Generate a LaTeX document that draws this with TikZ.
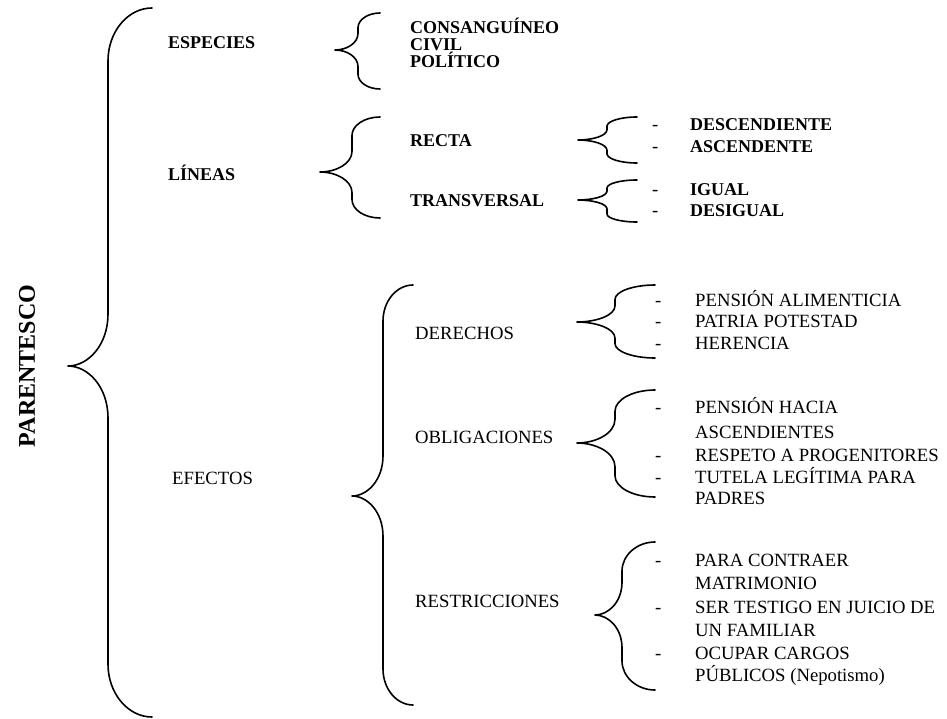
\documentclass[tikz,border=0pt]{standalone}
\usepackage{fontspec}
\setmainfont{Liberation Serif}
\usetikzlibrary{calc}

% llave: x extremos, x vertical, x punta, y arriba, y punta, y abajo
\newcommand{\llave}[6]{%
  \pgfmathsetmacro{\hmin}{min(#5-#4,#6-#5)}%
  \pgfmathsetmacro{\ra}{min(1.2*(#1-#2),0.4*\hmin)}%
  \pgfmathsetmacro{\rb}{min(1.3*(#2-#3),0.45*\hmin)}%
  \draw[trazo] (#1,#4) .. controls ({#2+0.45*(#1-#2)},#4) and (#2,{#4+0.45*\ra}) .. (#2,{#4+\ra})
    -- (#2,{#5-\rb}) .. controls (#2,{#5-0.4*\rb}) and ({#3+0.5*(#2-#3)},#5) .. (#3,#5)
    .. controls ({#3+0.5*(#2-#3)},#5) and (#2,{#5+0.4*\rb}) .. (#2,{#5+\rb})
    -- (#2,{#6-\ra}) .. controls (#2,{#6-0.45*\ra}) and ({#2+0.45*(#1-#2)},#6) .. (#1,#6);}

\begin{document}
\begin{tikzpicture}[
      x=1pt,
      y=-1pt,
      raiz/.style={
          font=\bfseries\fontsize{24}{28}\selectfont,
          rotate=90
        },
      rama/.style={
          anchor=base west,
          inner sep=0pt,
          font=\bfseries\fontsize{18}{20}\selectfont
        },
      hoja/.style={
          anchor=base west,
          inner sep=0pt,
          font=\fontsize{18.7}{22}\selectfont
        },
      guion/.style={
          hoja
        },
      trazo/.style={
          line width=1.6pt,
          line cap=round,
          line join=round
        }
    ]
    \useasboundingbox (0,0) rectangle (947,719);

    % Nodes
    \node[raiz] (parentesco) at (27,366) {PARENTESCO};
    \node[rama] (especies) at (168,49) {ESPECIES};
    \node[rama] (lineas) at (168,181) {LÍNEAS};
    \node[hoja] (efectos) at (172,484) {EFECTOS};

    \node[rama] (consang) at (410,34) {CONSANGUÍNEO};
    \node[rama] (civil) at (410,51) {CIVIL};
    \node[rama] (politico) at (410,68) {POLÍTICO};
    \node[rama] (recta) at (410,147) {RECTA};
    \node[rama] (transv) at (410,207) {TRANSVERSAL};

    \node[guion] (g-desc) at (652,131) {-};
    \node[guion] (g-asc) at (652,153) {-};
    \node[guion] (g-igual) at (652,196) {-};
    \node[guion] (g-desig) at (652,217) {-};
    \node[rama] (desc) at (690,131) {DESCENDIENTE};
    \node[rama] (asc) at (690,153) {ASCENDENTE};
    \node[rama] (igual) at (690,196) {IGUAL};
    \node[rama] (desig) at (690,217) {DESIGUAL};

    \node[hoja] (derechos) at (415,339) {DERECHOS};
    \node[hoja] (obligac) at (415,443) {OBLIGACIONES};
    \node[hoja] (restric) at (415,607) {RESTRICCIONES};

    \node[guion] (g-pension) at (655,306) {-};
    \node[guion] (g-patria) at (655,327.5) {-};
    \node[guion] (g-herencia) at (655,349) {-};
    \node[hoja] (pension) at (695,306) {PENSIÓN ALIMENTICIA};
    \node[hoja] (patria) at (695,327.5) {PATRIA POTESTAD};
    \node[hoja] (herencia) at (695,349) {HERENCIA};

    \node[guion] (g-hacia) at (655,413) {-};
    \node[guion] (g-respeto) at (655,461) {-};
    \node[guion] (g-tutela) at (655,483) {-};
    \node[hoja] (hacia) at (695,413) {PENSIÓN HACIA};
    \node[hoja] (ascend) at (695,438) {ASCENDIENTES};
    \node[hoja] (respeto) at (695,461) {RESPETO A PROGENITORES};
    \node[hoja] (tutela) at (695,483) {TUTELA LEGÍTIMA PARA};
    \node[hoja] (padres) at (695,504) {PADRES};

    \node[guion] (g-contraer) at (655,566) {-};
    \node[guion] (g-testigo) at (655,613) {-};
    \node[guion] (g-cargos) at (655,659) {-};
    \node[hoja] (contraer) at (695,566) {PARA CONTRAER};
    \node[hoja] (matrim) at (695,589) {MATRIMONIO};
    \node[hoja] (testigo) at (695,613) {SER TESTIGO EN JUICIO DE};
    \node[hoja] (familiar) at (695,636) {UN FAMILIAR};
    \node[hoja] (cargos) at (695,659) {OCUPAR CARGOS};
    \node[hoja] (publicos) at (695,681) {PÚBLICOS (Nepotismo)};

    % Llaves
    \llave{152}{108}{68}{8}{366}{717}
    \llave{380}{358}{335}{13}{50}{89}
    \llave{380}{352}{320}{117}{172}{218}
    \llave{637}{607}{578}{117}{140}{163}
    \llave{637}{607}{578}{180}{200}{222}
    \llave{413}{383}{352}{285}{496}{705}
    \llave{655}{615}{577}{285}{322}{358}
    \llave{655}{615}{577}{390}{443}{497}
    \llave{655}{622}{595}{542}{615}{690}
  \end{tikzpicture}
\end{document}
